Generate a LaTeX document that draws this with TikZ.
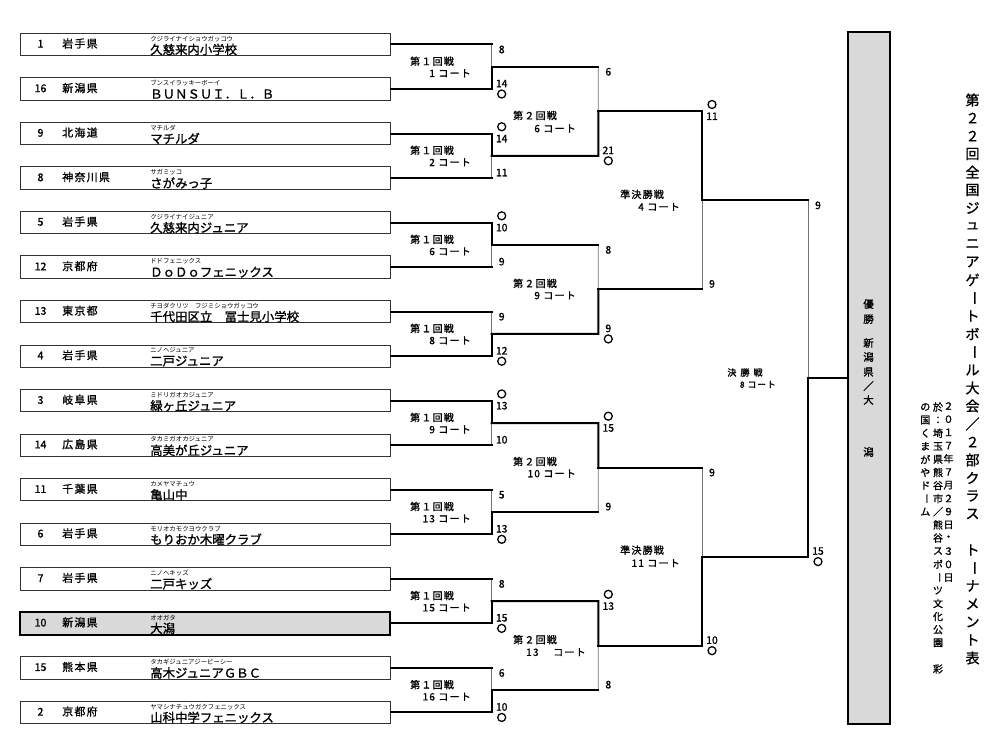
\documentclass[tikz,border=0pt]{standalone}
\usepackage{fontspec}
\setmainfont{Noto Sans CJK JP}
\newfontfamily\jpb[FakeBold=1.2]{Noto Sans CJK JP}
\newfontfamily\jpw[LetterSpace=12,FakeBold=1.2]{Noto Sans CJK JP}
\usetikzlibrary{calc}
\begin{document}
\begin{tikzpicture}[x=0.75pt,y=-0.75pt,
  team/.style={draw=black!80,line width=0.75pt,minimum width=277.5pt,minimum height=16.8pt,inner sep=0pt},
  winteam/.style={team,fill=gray!30,draw=black,line width=1.6pt},
  tnum/.style={font=\jpb\fontsize{8}{8}\selectfont,inner sep=0pt},
  tpref/.style={font=\jpw\fontsize{8.2}{8.2}\selectfont,anchor=west,inner sep=0pt},
  tkana/.style={font=\fontsize{4.8}{4.8}\selectfont,anchor=west,inner sep=0pt},
  tname/.style={font=\jpb\fontsize{9.3}{9.3}\selectfont,anchor=west,inner sep=0pt},
  thk/.style={line width=1.5pt,line cap=rect,line join=miter},
  thn/.style={line width=0.5pt,draw=black!55},
  score/.style={font=\jpb\fontsize{7.8}{7.8}\selectfont,inner sep=0pt},
  ring/.style={circle,draw=black,line width=0.95pt,minimum size=6pt,inner sep=0pt},
  rtitle/.style={font=\jpw\fontsize{7.5}{7.5}\selectfont,inner sep=0pt},
  rcourt/.style={font=\jpw\fontsize{7.5}{7.5}\selectfont,inner sep=0pt,anchor=east},
  champ/.style={draw=black,fill=gray!30,line width=1.5pt,minimum width=31.5pt,minimum height=519pt,inner sep=0pt},
  vbig/.style={font=\jpb\fontsize{10.5}{10.5}\selectfont,inner sep=0pt},
  vsmall/.style={font=\jpb\fontsize{7.5}{7.5}\selectfont,inner sep=0pt},
  vchamp/.style={font=\jpb\fontsize{7.8}{7.8}\selectfont,inner sep=0pt},
]
\fill[white] (0,0) rectangle (1000,748);
\useasboundingbox (0,0) rectangle (1000,748);

% ---------- team boxes ----------
\foreach \ii/\tno/\tpr/\tka/\tnm in {
  0/1/岩手県/クジライナイショウガッコウ/久慈来内小学校,
  1/16/新潟県/ブンスイラッキーボーイ/ＢＵＮＳＵＩ．Ｌ．Ｂ,
  2/9/北海道/マチルダ/マチルダ,
  3/8/神奈川県/サガミッコ/さがみっ子,
  4/5/岩手県/クジライナイジュニア/久慈来内ジュニア,
  5/12/京都府/ドドフェニックス/ＤｏＤｏフェニックス,
  6/13/東京都/チヨダクリツ　フジミショウガッコウ/千代田区立　冨士見小学校,
  7/4/岩手県/ニノヘジュニア/二戸ジュニア,
  8/3/岐阜県/ミドリガオカジュニア/緑ヶ丘ジュニア,
  9/14/広島県/タカミガオカジュニア/高美が丘ジュニア,
  10/11/千葉県/カメヤマチュウ/亀山中,
  11/6/岩手県/モリオカモクヨウクラブ/もりおか木曜クラブ,
  12/7/岩手県/ニノヘキッズ/二戸キッズ,
  13/10/新潟県/オオガタ/大潟,
  14/15/熊本県/タカギジュニアジービーシー/高木ジュニアＧＢＣ,
  15/2/京都府/ヤマシナチュウガクフェニックス/山科中学フェニックス}{
  \pgfmathsetmacro\yy{44.5+44.53*\ii}
  \ifnum\ii=13
    \node[winteam] (t\ii) at (205,\yy) {};
  \else
    \node[team] (t\ii) at (205,\yy) {};
  \fi
  \node[tnum] (tn\ii) at (40.5,\yy-0.7) {\tno};
  \node[tpref] (tp\ii) at (62,\yy-1) {\tpr};
  \node[tkana] (tk\ii) at (150,\yy-5.8) {\tka};
  \node[tname] (tt\ii) at (150,\yy+5) {\tnm};
}

% ---------- bracket coordinates ----------
\coordinate (x1) at (491.7,0);
\coordinate (x2) at (598.3,0);
\coordinate (x3) at (702,0);
\coordinate (x4) at (808,0);
\foreach \kk in {0,...,7}{
  \pgfmathtruncatemacro\ta{2*\kk}
  \pgfmathtruncatemacro\tb{2*\kk+1}
  \coordinate (a1-\kk) at (t\ta.east -| x1);
  \coordinate (b1-\kk) at (t\tb.east -| x1);
  \coordinate (m1-\kk) at ($(a1-\kk)!0.5!(b1-\kk)$);
}
\foreach \kk in {0,...,3}{
  \pgfmathtruncatemacro\ta{2*\kk}
  \pgfmathtruncatemacro\tb{2*\kk+1}
  \coordinate (a2-\kk) at (m1-\ta -| x2);
  \coordinate (b2-\kk) at (m1-\tb -| x2);
  \coordinate (m2-\kk) at ($(a2-\kk)!0.5!(b2-\kk)$);
}
\foreach \kk in {0,1}{
  \pgfmathtruncatemacro\ta{2*\kk}
  \pgfmathtruncatemacro\tb{2*\kk+1}
  \coordinate (a3-\kk) at (m2-\ta -| x3);
  \coordinate (b3-\kk) at (m2-\tb -| x3);
  \coordinate (m3-\kk) at ($(a3-\kk)!0.5!(b3-\kk)$);
}
\coordinate (a4-0) at (m3-0 -| x4);
\coordinate (b4-0) at (m3-1 -| x4);
\coordinate (m4-0) at ($(a4-0)!0.5!(b4-0)$);

% ---------- round 1 connectors ----------
\foreach \kk/\ww in {0/b,1/t,2/t,3/b,4/t,5/b,6/b,7/b}{
  \pgfmathtruncatemacro\ta{2*\kk}
  \pgfmathtruncatemacro\tb{2*\kk+1}
  \if t\ww
    \draw[thn] (b1-\kk) -- (m1-\kk);
    \draw[thk] (t\tb.east) -- (b1-\kk);
    \draw[thk] (t\ta.east) -- (a1-\kk) -- (m1-\kk);
  \else
    \draw[thn] (a1-\kk) -- (m1-\kk);
    \draw[thk] (t\ta.east) -- (a1-\kk);
    \draw[thk] (t\tb.east) -- (b1-\kk) -- (m1-\kk);
  \fi
}
% ---------- later rounds ----------
\foreach \rr/\pr/\kk/\ww in {2/1/0/b,2/1/1/b,2/1/2/t,2/1/3/t,3/2/0/t,3/2/1/b,4/3/0/b}{
  \pgfmathtruncatemacro\ta{2*\kk}
  \pgfmathtruncatemacro\tb{2*\kk+1}
  \if t\ww
    \draw[thn] (b\rr-\kk) -- (m\rr-\kk);
    \draw[thk] (m\pr-\tb) -- (b\rr-\kk);
    \draw[thk] (m\pr-\ta) -- (a\rr-\kk) -- (m\rr-\kk);
  \else
    \draw[thn] (a\rr-\kk) -- (m\rr-\kk);
    \draw[thk] (m\pr-\ta) -- (a\rr-\kk);
    \draw[thk] (m\pr-\tb) -- (b\rr-\kk) -- (m\rr-\kk);
  \fi
}

% ---------- champion ----------
\node[champ] (champ) at (869,378) {};
\draw[thk] (m4-0) -- (m4-0 -| champ.west);
\foreach \cc/\yy [count=\ii] in {優/304,勝/319,新/343,潟/357,県/372,／/386,大/400,潟/452}{
  \node[vchamp] (ch\ii) at (868.5,\yy) {\cc};
}

% ---------- scores ----------
\foreach \rr/\kk/\vt/\vb/\ww in {1/0/8/14/b,1/1/14/11/t,1/2/10/9/t,1/3/9/12/b,1/4/13/10/t,1/5/5/13/b,1/6/8/15/b,1/7/6/10/b,
  2/0/6/21/b,2/1/8/9/b,2/2/15/9/t,2/3/13/8/t,3/0/11/9/t,3/1/9/10/b,4/0/9/15/b}{
  \node[score] (st\rr-\kk) at ($(a\rr-\kk)+(10,5)$) {\vt};
  \node[score] (sb\rr-\kk) at ($(b\rr-\kk)+(10,-5.5)$) {\vb};
  \if t\ww
    \node[ring] (wr\rr-\kk) at ($(a\rr-\kk)+(10,-6.8)$) {};
  \else
    \node[ring] (wr\rr-\kk) at ($(b\rr-\kk)+(10,5)$) {};
  \fi
}

% ---------- round labels ----------
\foreach \kk/\cc in {0/1,1/2,2/6,3/8,4/9,5/13,6/15,7/16}{
  \node[rtitle] (l1t\kk) at ($(m1-\kk)+(-59.7,-5.5)$) {第１回戦};
  \node[rcourt] (l1c\kk) at ($(m1-\kk)+(-20.7,6.5)$) {\cc\ コート};
}
\node[rtitle] (l2t0) at ($(m2-0)+(-63.3,4.2)$) {第２回戦};
\node[rcourt] (l2c0) at ($(m2-0)+(-22.3,17.2)$) {6 コート};
\node[rtitle] (l2t1) at ($(m2-1)+(-63.3,-6)$) {第２回戦};
\node[rcourt] (l2c1) at ($(m2-1)+(-22.3,6)$) {9 コート};
\node[rtitle] (l2t2) at ($(m2-2)+(-63.3,-6)$) {第２回戦};
\node[rcourt] (l2c2) at ($(m2-2)+(-22.3,6)$) {10 コート};
\node[rtitle] (l2t3) at ($(m2-3)+(-63.3,-6)$) {第２回戦};
\node[rcourt,anchor=west] (l2c3) at ($(m2-3)+(-72.3,6.5)$) {\makebox[20.25pt][l]{13}コート};
\node[rtitle] (l3t0) at ($(m3-0)+(-60,-6)$) {準決勝戦};
\node[rcourt] (l3c0) at ($(m3-0)+(-22,6.5)$) {4 コート};
\node[rtitle] (l3t1) at ($(m3-1)+(-60,-6.5)$) {準決勝戦};
\node[rcourt] (l3c1) at ($(m3-1)+(-22,6.5)$) {11 コート};
\node[rtitle,font=\jpw\fontsize{6.8}{6.8}\selectfont] (l4t0) at ($(m4-0)+(-63,-6)$) {決\hspace{3pt}勝\hspace{3pt}戦};
\node[rcourt,font=\jpw\fontsize{6.5}{6.5}\selectfont] (l4c0) at ($(m4-0)+(-32,6)$) {8 コート};

% ---------- vertical title and notes ----------
\foreach \cc [count=\ii from 0] in {第,２,２,回,全,国,ジ,ュ,ニ,ア,ゲ,{\rotatebox[origin=c]{-90}{ー}},ト,ボ,{\rotatebox[origin=c]{-90}{ー}},ル,大,会,／,２,部,ク,ラ,ス,{},ト,{\rotatebox[origin=c]{-90}{ー}},ナ,メ,ン,ト,表}{
  \node[vbig] (ti\ii) at (972.5,100+18*\ii) {\cc};
}
\foreach \cc [count=\ii from 0] in {２,０,１,７,年,７,月,２,９,日,・,３,０,日}{
  \node[vsmall] (da\ii) at (948.5,406+13.2*\ii) {\cc};
}
\foreach \cc [count=\ii from 0] in {於,：,埼,玉,県,熊,谷,市,／,熊,谷,ス,ポ,{\rotatebox[origin=c]{-90}{ー}},ツ,文,化,公,園,{},彩}{
  \node[vsmall] (ve\ii) at (938,407+13.1*\ii) {\cc};
}
\foreach \cc [count=\ii from 0] in {の,国,く,ま,が,や,ド,{\rotatebox[origin=c]{-90}{ー}},ム}{
  \node[vsmall] (vf\ii) at (925.3,407+13.1*\ii) {\cc};
}
\end{tikzpicture}
\end{document}
